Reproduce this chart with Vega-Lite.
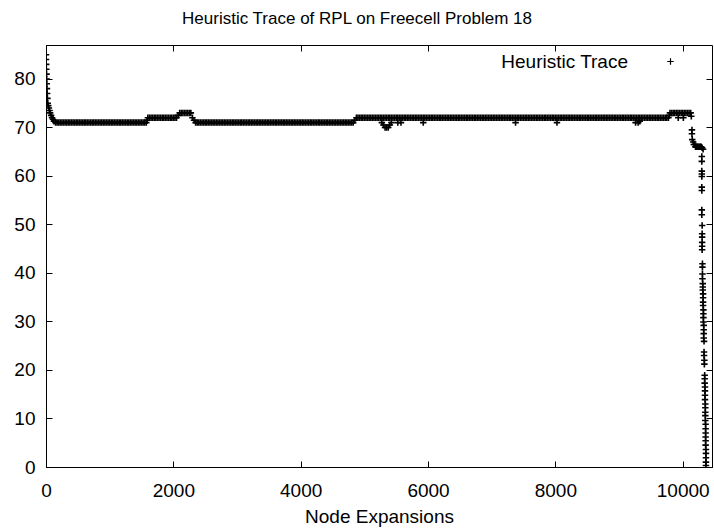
{
"$schema": "https://vega.github.io/schema/vega-lite/v6.json",
"width": 666, "height": 422,
"autosize": "none",
"padding": {"left": 46, "top": 45, "right": 2, "bottom": 62},
"title": {"text": "Heuristic Trace of RPL on Freecell Problem 18", "font": "Liberation Sans", "fontSize": 17, "fontWeight": "normal", "color": "black", "offset": 17, "anchor": "middle", "dx": -22},
"config": {
"view": {"stroke": "black", "strokeWidth": 1},
"axis": {"grid": false, "domainColor": "black", "tickColor": "black", "labelColor": "black", "titleColor": "black", "labelFont": "Liberation Sans", "titleFont": "Liberation Sans", "labelFontSize": 19, "titleFontSize": 19, "titleFontWeight": "normal", "tickSize": -6, "domainWidth": 1, "tickWidth": 1}
},
"data": {"values": [
{"x":0,"y":85},{"x":0,"y":84},{"x":3,"y":83},{"x":5,"y":82},{"x":8,"y":81},{"x":10,"y":80},{"x":12,"y":79},{"x":15,"y":78},{"x":18,"y":77},{"x":22,"y":76},{"x":27,"y":75},{"x":35,"y":74.5},{"x":45,"y":74},{"x":55,"y":73.5},{"x":65,"y":73},{"x":80,"y":72.5},{"x":95,"y":72},{"x":110,"y":71.7},{"x":125,"y":71.3},
{"x":150,"y":71},{"x":175,"y":71},{"x":200,"y":71},{"x":225,"y":71},{"x":250,"y":71},{"x":275,"y":71},{"x":300,"y":71},{"x":325,"y":71},{"x":350,"y":71},{"x":375,"y":71},{"x":400,"y":71},{"x":425,"y":71},{"x":450,"y":71},{"x":475,"y":71},{"x":500,"y":71},{"x":525,"y":71},{"x":550,"y":71},{"x":575,"y":71},{"x":600,"y":71},{"x":625,"y":71},{"x":650,"y":71},{"x":675,"y":71},{"x":700,"y":71},{"x":725,"y":71},{"x":750,"y":71},{"x":775,"y":71},{"x":800,"y":71},{"x":825,"y":71},{"x":850,"y":71},{"x":875,"y":71},{"x":900,"y":71},{"x":925,"y":71},{"x":950,"y":71},{"x":975,"y":71},{"x":1000,"y":71},{"x":1025,"y":71},{"x":1050,"y":71},{"x":1075,"y":71},{"x":1100,"y":71},{"x":1125,"y":71},{"x":1150,"y":71},{"x":1175,"y":71},{"x":1200,"y":71},{"x":1225,"y":71},{"x":1250,"y":71},{"x":1275,"y":71},{"x":1300,"y":71},{"x":1325,"y":71},{"x":1350,"y":71},{"x":1375,"y":71},{"x":1400,"y":71},{"x":1425,"y":71},{"x":1450,"y":71},{"x":1475,"y":71},{"x":1500,"y":71},{"x":1525,"y":71},{"x":1550,"y":71},{"x":1575,"y":71},
{"x":1588,"y":71.5},
{"x":1600,"y":72},{"x":1625,"y":72},{"x":1650,"y":72},{"x":1675,"y":72},{"x":1700,"y":72},{"x":1725,"y":72},{"x":1750,"y":72},{"x":1775,"y":72},{"x":1800,"y":72},{"x":1825,"y":72},{"x":1850,"y":72},{"x":1875,"y":72},{"x":1900,"y":72},{"x":1925,"y":72},{"x":1950,"y":72},{"x":1975,"y":72},{"x":2000,"y":72},{"x":2025,"y":72},{"x":2050,"y":72},{"x":2075,"y":72.5},
{"x":2100,"y":73},{"x":2125,"y":73},{"x":2150,"y":73},{"x":2175,"y":73},{"x":2200,"y":73},{"x":2225,"y":73},{"x":2250,"y":73},{"x":2275,"y":73},{"x":2300,"y":72},{"x":2325,"y":71.5},
{"x":2350,"y":71},{"x":2375,"y":71},{"x":2400,"y":71},{"x":2425,"y":71},{"x":2450,"y":71},{"x":2475,"y":71},{"x":2500,"y":71},{"x":2525,"y":71},{"x":2550,"y":71},{"x":2575,"y":71},{"x":2600,"y":71},{"x":2625,"y":71},{"x":2650,"y":71},{"x":2675,"y":71},{"x":2700,"y":71},{"x":2725,"y":71},{"x":2750,"y":71},{"x":2775,"y":71},{"x":2800,"y":71},{"x":2825,"y":71},{"x":2850,"y":71},{"x":2875,"y":71},{"x":2900,"y":71},{"x":2925,"y":71},{"x":2950,"y":71},{"x":2975,"y":71},{"x":3000,"y":71},{"x":3025,"y":71},{"x":3050,"y":71},{"x":3075,"y":71},{"x":3100,"y":71},{"x":3125,"y":71},{"x":3150,"y":71},{"x":3175,"y":71},{"x":3200,"y":71},{"x":3225,"y":71},{"x":3250,"y":71},{"x":3275,"y":71},{"x":3300,"y":71},{"x":3325,"y":71},{"x":3350,"y":71},{"x":3375,"y":71},{"x":3400,"y":71},{"x":3425,"y":71},{"x":3450,"y":71},{"x":3475,"y":71},{"x":3500,"y":71},{"x":3525,"y":71},{"x":3550,"y":71},{"x":3575,"y":71},{"x":3600,"y":71},{"x":3625,"y":71},{"x":3650,"y":71},{"x":3675,"y":71},{"x":3700,"y":71},{"x":3725,"y":71},{"x":3750,"y":71},{"x":3775,"y":71},{"x":3800,"y":71},{"x":3825,"y":71},{"x":3850,"y":71},{"x":3875,"y":71},{"x":3900,"y":71},{"x":3925,"y":71},{"x":3950,"y":71},{"x":3975,"y":71},{"x":4000,"y":71},{"x":4025,"y":71},{"x":4050,"y":71},{"x":4075,"y":71},{"x":4100,"y":71},{"x":4125,"y":71},{"x":4150,"y":71},{"x":4175,"y":71},{"x":4200,"y":71},{"x":4225,"y":71},{"x":4250,"y":71},{"x":4275,"y":71},{"x":4300,"y":71},{"x":4325,"y":71},{"x":4350,"y":71},{"x":4375,"y":71},{"x":4400,"y":71},{"x":4425,"y":71},{"x":4450,"y":71},{"x":4475,"y":71},{"x":4500,"y":71},{"x":4525,"y":71},{"x":4550,"y":71},{"x":4575,"y":71},{"x":4600,"y":71},{"x":4625,"y":71},{"x":4650,"y":71},{"x":4675,"y":71},{"x":4700,"y":71},{"x":4725,"y":71},{"x":4750,"y":71},{"x":4775,"y":71},{"x":4800,"y":71},{"x":4825,"y":71},
{"x":4850,"y":71.5},
{"x":4875,"y":72},{"x":4900,"y":72},{"x":4925,"y":72},{"x":4950,"y":72},{"x":4975,"y":72},{"x":5000,"y":72},{"x":5025,"y":72},{"x":5050,"y":72},{"x":5075,"y":72},{"x":5100,"y":72},{"x":5125,"y":72},{"x":5150,"y":72},{"x":5175,"y":72},{"x":5200,"y":72},{"x":5225,"y":72},{"x":5250,"y":72},{"x":5275,"y":72},{"x":5300,"y":72},{"x":5325,"y":72},{"x":5350,"y":72},{"x":5375,"y":72},{"x":5400,"y":72},{"x":5425,"y":72},{"x":5450,"y":72},{"x":5475,"y":72},{"x":5500,"y":72},{"x":5525,"y":72},{"x":5550,"y":72},{"x":5575,"y":72},{"x":5600,"y":72},{"x":5625,"y":72},{"x":5650,"y":72},{"x":5675,"y":72},{"x":5700,"y":72},{"x":5725,"y":72},{"x":5750,"y":72},{"x":5775,"y":72},{"x":5800,"y":72},{"x":5825,"y":72},{"x":5850,"y":72},{"x":5875,"y":72},{"x":5900,"y":72},{"x":5925,"y":72},{"x":5950,"y":72},{"x":5975,"y":72},
{"x":6000,"y":72},{"x":6025,"y":72},{"x":6050,"y":72},{"x":6075,"y":72},{"x":6100,"y":72},{"x":6125,"y":72},{"x":6150,"y":72},{"x":6175,"y":72},{"x":6200,"y":72},{"x":6225,"y":72},{"x":6250,"y":72},{"x":6275,"y":72},{"x":6300,"y":72},{"x":6325,"y":72},{"x":6350,"y":72},{"x":6375,"y":72},{"x":6400,"y":72},{"x":6425,"y":72},{"x":6450,"y":72},{"x":6475,"y":72},{"x":6500,"y":72},{"x":6525,"y":72},{"x":6550,"y":72},{"x":6575,"y":72},{"x":6600,"y":72},{"x":6625,"y":72},{"x":6650,"y":72},{"x":6675,"y":72},{"x":6700,"y":72},{"x":6725,"y":72},{"x":6750,"y":72},{"x":6775,"y":72},{"x":6800,"y":72},{"x":6825,"y":72},{"x":6850,"y":72},{"x":6875,"y":72},{"x":6900,"y":72},{"x":6925,"y":72},{"x":6950,"y":72},{"x":6975,"y":72},
{"x":7000,"y":72},{"x":7025,"y":72},{"x":7050,"y":72},{"x":7075,"y":72},{"x":7100,"y":72},{"x":7125,"y":72},{"x":7150,"y":72},{"x":7175,"y":72},{"x":7200,"y":72},{"x":7225,"y":72},{"x":7250,"y":72},{"x":7275,"y":72},{"x":7300,"y":72},{"x":7325,"y":72},{"x":7350,"y":72},{"x":7375,"y":72},{"x":7400,"y":72},{"x":7425,"y":72},{"x":7450,"y":72},{"x":7475,"y":72},{"x":7500,"y":72},{"x":7525,"y":72},{"x":7550,"y":72},{"x":7575,"y":72},{"x":7600,"y":72},{"x":7625,"y":72},{"x":7650,"y":72},{"x":7675,"y":72},{"x":7700,"y":72},{"x":7725,"y":72},{"x":7750,"y":72},{"x":7775,"y":72},{"x":7800,"y":72},{"x":7825,"y":72},{"x":7850,"y":72},{"x":7875,"y":72},{"x":7900,"y":72},{"x":7925,"y":72},{"x":7950,"y":72},{"x":7975,"y":72},
{"x":8000,"y":72},{"x":8025,"y":72},{"x":8050,"y":72},{"x":8075,"y":72},{"x":8100,"y":72},{"x":8125,"y":72},{"x":8150,"y":72},{"x":8175,"y":72},{"x":8200,"y":72},{"x":8225,"y":72},{"x":8250,"y":72},{"x":8275,"y":72},{"x":8300,"y":72},{"x":8325,"y":72},{"x":8350,"y":72},{"x":8375,"y":72},{"x":8400,"y":72},{"x":8425,"y":72},{"x":8450,"y":72},{"x":8475,"y":72},{"x":8500,"y":72},{"x":8525,"y":72},{"x":8550,"y":72},{"x":8575,"y":72},{"x":8600,"y":72},{"x":8625,"y":72},{"x":8650,"y":72},{"x":8675,"y":72},{"x":8700,"y":72},{"x":8725,"y":72},{"x":8750,"y":72},{"x":8775,"y":72},{"x":8800,"y":72},{"x":8825,"y":72},{"x":8850,"y":72},{"x":8875,"y":72},{"x":8900,"y":72},{"x":8925,"y":72},{"x":8950,"y":72},{"x":8975,"y":72},
{"x":9000,"y":72},{"x":9025,"y":72},{"x":9050,"y":72},{"x":9075,"y":72},{"x":9100,"y":72},{"x":9125,"y":72},{"x":9150,"y":72},{"x":9175,"y":72},{"x":9200,"y":72},{"x":9225,"y":72},{"x":9250,"y":72},{"x":9275,"y":72},{"x":9300,"y":72},{"x":9325,"y":72},{"x":9350,"y":72},{"x":9375,"y":72},{"x":9400,"y":72},{"x":9425,"y":72},{"x":9450,"y":72},{"x":9475,"y":72},{"x":9500,"y":72},{"x":9525,"y":72},{"x":9550,"y":72},{"x":9575,"y":72},{"x":9600,"y":72},{"x":9625,"y":72},{"x":9650,"y":72},{"x":9675,"y":72},{"x":9700,"y":72},{"x":9725,"y":72},{"x":9750,"y":72},{"x":9775,"y":72},
{"x":5275,"y":71},{"x":5300,"y":70.5},{"x":5325,"y":70},{"x":5350,"y":70},{"x":5375,"y":70},{"x":5400,"y":70.5},{"x":5425,"y":71},{"x":5525,"y":71},{"x":5575,"y":71},{"x":5925,"y":71},{"x":7375,"y":71},{"x":8025,"y":71},{"x":9260,"y":71},{"x":9300,"y":71},{"x":9325,"y":71.3},
{"x":9790,"y":72.5},{"x":9800,"y":73},{"x":9825,"y":73},{"x":9850,"y":73},{"x":9875,"y":73},{"x":9900,"y":73},{"x":9925,"y":73},{"x":9950,"y":73},{"x":9975,"y":73},{"x":10000,"y":73},{"x":10025,"y":73},{"x":10050,"y":73},{"x":10075,"y":73},{"x":10100,"y":73},{"x":10125,"y":73},{"x":9930,"y":72},{"x":10010,"y":72},{"x":10135,"y":72.3},
{"x":10145,"y":69.5},{"x":10145,"y":68.7},
{"x":10150,"y":67.5},{"x":10165,"y":67},{"x":10175,"y":66.5},{"x":10190,"y":66.5},{"x":10200,"y":66},{"x":10215,"y":66},{"x":10230,"y":66},{"x":10245,"y":66},{"x":10260,"y":66},{"x":10275,"y":66},{"x":10290,"y":66},{"x":10305,"y":65.8},{"x":10320,"y":65.5},
{"x":10300,"y":64},{"x":10300,"y":63},{"x":10300,"y":61},{"x":10300,"y":60.4},{"x":10300,"y":59.9},{"x":10300,"y":57.7},{"x":10300,"y":57},{"x":10300,"y":53},{"x":10300,"y":52},{"x":10305,"y":49.8},{"x":10305,"y":48.1},{"x":10305,"y":47.4},{"x":10305,"y":46.3},{"x":10305,"y":45.5},{"x":10305,"y":44.8},{"x":10310,"y":41.9},{"x":10310,"y":41.2},{"x":10310,"y":39.8},{"x":10310,"y":38.8},{"x":10315,"y":37.8},{"x":10315,"y":37.1},{"x":10315,"y":36.5},{"x":10320,"y":35.7},{"x":10320,"y":34.9},{"x":10320,"y":34},{"x":10320,"y":33.3},{"x":10325,"y":32.4},{"x":10325,"y":31.6},{"x":10325,"y":30.8},{"x":10325,"y":29.9},{"x":10330,"y":29.2},{"x":10330,"y":28.3},{"x":10330,"y":27.5},{"x":10330,"y":26.6},{"x":10335,"y":25.9},{"x":10335,"y":23.7},{"x":10335,"y":23},{"x":10340,"y":22},{"x":10340,"y":21.2},{"x":10345,"y":18.9},{"x":10345,"y":18.2},{"x":10345,"y":17.3},{"x":10350,"y":16.5},{"x":10350,"y":15.7},{"x":10350,"y":14.8},{"x":10350,"y":13.9},{"x":10355,"y":13},{"x":10355,"y":12.2},{"x":10355,"y":11.3},{"x":10355,"y":10.6},{"x":10355,"y":9.6},{"x":10360,"y":8.8},{"x":10360,"y":7.9},{"x":10360,"y":7},{"x":10360,"y":6.2},{"x":10360,"y":5.4},{"x":10360,"y":4.5},{"x":10365,"y":3.6},{"x":10365,"y":2.8},{"x":10365,"y":1.9},{"x":10365,"y":1},{"x":10365,"y":0.3}
]},
"layer": [
{
"mark": {"type": "point", "shape": "M-1,0H1M0,-1V1", "filled": false, "size": 42, "strokeWidth": 1.6, "opacity": 1, "clip": true},
"encoding": {
"x": {"field": "x", "type": "quantitative", "scale": {"domain": [0, 10460], "nice": false, "zero": false}, "axis": {"orient": "bottom", "values": [0, 2000, 4000, 6000, 8000, 10000], "format": "d", "labelPadding": 20, "title": "Node Expansions", "titlePadding": 7, "labelFlush": false}},
"y": {"field": "y", "type": "quantitative", "scale": {"domain": [0, 87], "nice": false}, "axis": {"orient": "left", "values": [0, 10, 20, 30, 40, 50, 60, 70, 80], "labelPadding": 17, "title": null}},
"color": {"datum": "Heuristic Trace", "type": "nominal", "scale": {"range": ["black"]}, "legend": {"orient": "none", "legendX": 615, "legendY": 7, "title": null, "padding": 0, "symbolType": "M-1,0H1M0,-1V1", "symbolSize": 42, "symbolStrokeWidth": 1.2, "symbolFillColor": "transparent", "symbolStrokeColor": "black", "labelAlign": "right", "labelOffset": -52, "labelFont": "Liberation Sans", "labelFontSize": 19, "labelColor": "black"}}
}
},
{
"mark": {"type": "point", "opacity": 0},
"encoding": {
"x": {"field": "x", "type": "quantitative", "axis": {"orient": "top", "values": [0, 2000, 4000, 6000, 8000, 10000], "labels": false, "title": null, "domain": false}},
"y": {"field": "y", "type": "quantitative", "axis": {"orient": "right", "values": [0, 10, 20, 30, 40, 50, 60, 70, 80], "labels": false, "title": null, "domain": false}}
}
}
],
"resolve": {"axis": {"x": "independent", "y": "independent"}}
}
